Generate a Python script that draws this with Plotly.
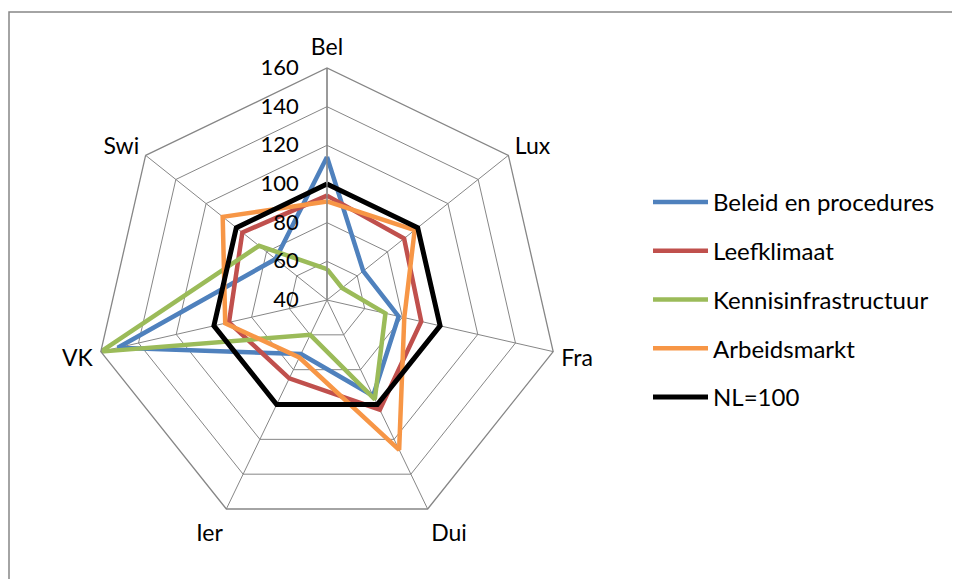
import plotly.graph_objects as go

# landen (categorieën) en indexwaarden, NL = 100
landen = ["Bel", "Lux", "Fra", "Dui", "Ier", "VK", "Swi"]

beleid = [114, 64, 78, 95, 71, 151, 74]
leefklimaat = [94, 91, 90, 103, 85, 92, 96]
kennis = [56, 50, 71, 97, 60, 160, 85]
arbeidsmarkt = [91, 98, 81, 126, 73, 94, 109]
nl = [100, 100, 100, 100, 100, 100, 100]

series = [
    ("Beleid en procedures", beleid, "#4F81BD", 4.5),
    ("Leefklimaat", leefklimaat, "#C0504D", 4.5),
    ("Kennisinfrastructuur", kennis, "#9BBB59", 4.5),
    ("Arbeidsmarkt", arbeidsmarkt, "#F79646", 4.5),
    ("NL=100", nl, "#000000", 5),
]

FONT = "Lato"
GRID = "#868686"

fig = go.Figure()

for name, values, color, width in series:
    # close the polygon
    fig.add_trace(go.Scatterpolar(
        r=values + values[:1],
        theta=landen + landen[:1],
        mode="lines",
        name=name,
        legendgroup=name,
        line=dict(color=color, width=width),
    ))

# page body has an 8px margin, so the figure is 952x571 and
# positions below are in figure pixels (window position minus 8)
W, H = 952, 571
cx, cy, rad = 319, 292, 232

fig.update_layout(
    width=W,
    height=H,
    margin=dict(l=0, r=0, t=0, b=0),
    paper_bgcolor="white",
    font=dict(family=FONT, size=23, color="black"),
    polar=dict(
        domain=dict(
            x=[(cx - rad) / W, (cx + rad) / W],
            y=[(H - cy - rad) / H, (H - cy + rad) / H],
        ),
        gridshape="linear",
        bgcolor="white",
        radialaxis=dict(
            range=[40, 160],
            tick0=40,
            dtick=20,
            angle=90,
            side="counterclockwise",
            tickangle=90,
            showline=True,
            linecolor=GRID,
            linewidth=1.3,
            gridcolor=GRID,
            gridwidth=1.3,
            ticks="outside",
            ticklen=20,
            tickcolor="rgba(0,0,0,0)",
            tickfont=dict(family=FONT, size=22),
        ),
        angularaxis=dict(
            rotation=90,
            direction="clockwise",
            linecolor=GRID,
            linewidth=1.3,
            gridcolor=GRID,
            gridwidth=1.3,
            ticks="outside",
            ticklen=3,
            tickcolor="rgba(0,0,0,0)",
            tickfont=dict(family=FONT, size=23),
        ),
    ),
    legend=dict(
        x=640 / W,
        y=1 - 172 / H,
        xanchor="left",
        yanchor="top",
        font=dict(family=FONT, size=24),
        tracegroupgap=14.5,
        itemwidth=55,
        bgcolor="rgba(0,0,0,0)",
    ),
    shapes=[
        dict(
            type="rect",
            xref="paper",
            yref="paper",
            x0=1 / W,
            x1=1.02,
            y0=-0.02,
            y1=1 - 4 / H,
            line=dict(color=GRID, width=1.5),
        )
    ],
)

fig.write_html("out.html")
